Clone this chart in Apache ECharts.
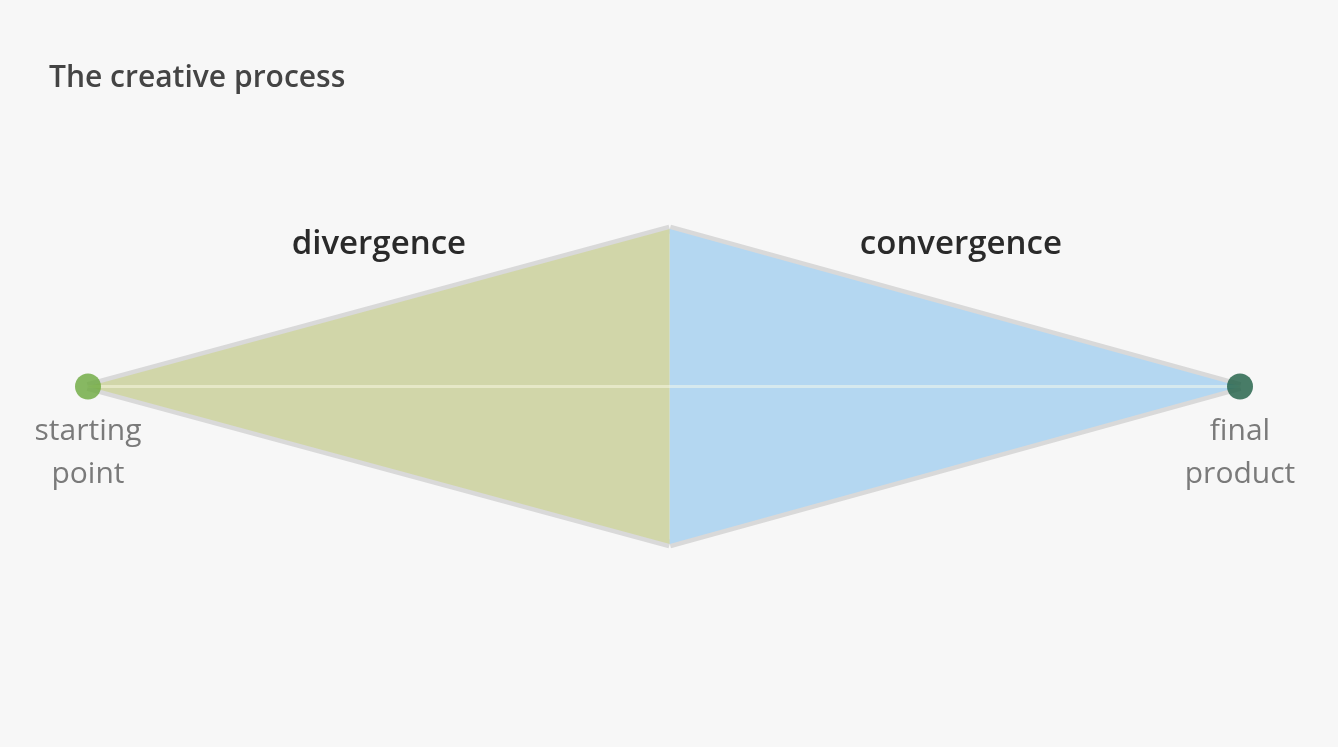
<!DOCTYPE html>
<html>
<head>
<meta charset="utf-8">
<script src="https://cdn.jsdelivr.net/npm/echarts@6/dist/echarts.min.js"></script>
<style>
html,body{margin:0;padding:0;background:#f7f7f7;}
#chart{width:1338px;height:747px;}
</style>
</head>
<body>
<div id="chart"></div>
<script>
// ---- data ----
const titleText = 'The creative process';
const stageX = [0, 50.5, 100];        // start, turning point, end (progress %)
const stageSpread = [0, 1, 0];        // relative breadth of ideas at each stage
const phaseNames = ['divergence', 'convergence'];
const endpointNames = ['starting\npoint', 'final\nproduct'];

// ---- build ----
const phaseData = phaseNames.map((n, i) => ({
  name: n,
  value: [stageX[i], stageSpread[i], stageX[i + 1], stageSpread[i + 1]]
}));
const phaseFill = ['#d1d6a9', '#b4d7f1'];
const endpointColors = ['#6aa83c', '#1b5c42'];

const chart = echarts.init(document.getElementById('chart'));
chart.setOption({
  backgroundColor: '#f7f7f7',
  animation: false,
  title: {
    text: titleText,
    left: 44, top: 58,
    textStyle: { fontFamily: 'Open Sans', fontSize: 30, fontWeight: 600, color: '#444' }
  },
  grid: { left: 88, right: 98, top: 229, bottom: 203 },
  xAxis: { type: 'value', min: 0, max: 100, show: false },
  yAxis: { type: 'value', min: -1, max: 1, show: false },
  series: [
    {
      type: 'custom',
      data: phaseData,
      renderItem: function (params, api) {
        const x0 = api.value(0), w0 = api.value(1), x1 = api.value(2), w1 = api.value(3);
        const pts = [
          api.coord([x0, w0]), api.coord([x1, w1]),
          api.coord([x1, -w1]), api.coord([x0, -w0])
        ];
        const idx = params.dataIndex;
        const mid = (x0 + x1) / 2;
        const lp = api.coord([mid, 0.9]);
        const edgeStyle = { stroke: '#d9d9d9', lineWidth: 9, fill: null };
        return {
          type: 'group',
          children: [
            { type: 'polyline', shape: { points: [pts[0], pts[1]] }, style: edgeStyle, z2: 1 },
            { type: 'polyline', shape: { points: [pts[3], pts[2]] }, style: edgeStyle, z2: 1 },
            {
              type: 'polygon',
              shape: { points: pts },
              style: { fill: phaseFill[idx] },
              z2: 2
            },
            {
              type: 'text',
              x: lp[0] + (idx === 1 ? 6 : 0), y: lp[1],
              style: {
                text: phaseNames[idx],
                align: 'center', verticalAlign: 'middle',
                fontFamily: 'Open Sans', fontSize: 33, fontWeight: 600, fill: '#2a2a2a'
              },
              z2: 5
            }
          ]
        };
      }
    },
    {
      type: 'line',
      data: [[stageX[0], 0], [stageX[2], 0]],
      symbol: 'none',
      lineStyle: { color: 'rgba(255,255,235,0.45)', width: 3 },
      z: 3
    },
    {
      type: 'scatter',
      data: [
        { value: [stageX[0], 0], itemStyle: { color: endpointColors[0] } },
        { value: [stageX[2], 0], itemStyle: { color: endpointColors[1] } }
      ],
      symbolSize: 26,
      z: 4,
      label: {
        show: true,
        position: 'bottom',
        distance: 10,
        formatter: function (p) { return endpointNames[p.dataIndex]; },
        fontFamily: 'Open Sans', fontSize: 30, lineHeight: 43, color: '#5a5a5a', align: 'center'
      }
    }
  ]
});
</script>
</body>
</html>
